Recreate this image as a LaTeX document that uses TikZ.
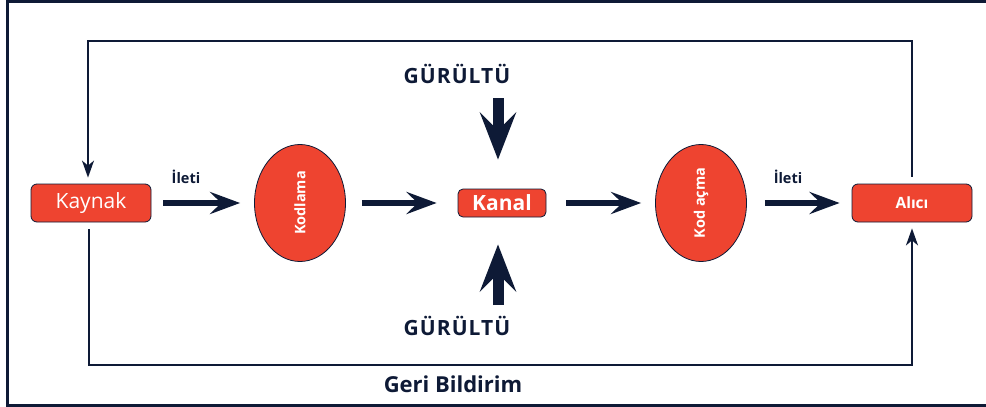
\documentclass[tikz,border=0pt]{standalone}
\usepackage{fontspec}
\setmainfont{Open Sans}
\usetikzlibrary{arrows.meta,calc,shapes.geometric}
\definecolor{navy}{HTML}{0E1A36}
\definecolor{redbox}{HTML}{EE4430}
\begin{document}
\begin{tikzpicture}[x=1pt,y=-1pt,
  box/.style={draw=navy,line width=0.8pt,fill=redbox,rounded corners=6pt,text=white,inner sep=0pt},
  oval/.style={ellipse,draw=navy,line width=0.8pt,fill=redbox,text=white,inner sep=0pt,minimum width=91pt,minimum height=117pt},
  bigarrow/.style={draw=navy,line width=6pt,-{Stealth[length=30pt,width=22pt,inset=11pt]}},
  noise/.style={draw=navy,line width=11pt,-{Stealth[length=47pt,width=36pt,inset=18pt]}},
  fb/.style={draw=navy,line width=1.8pt},
  fbarrow/.style={fb,-{Stealth[length=17pt,width=12pt,inset=5pt]}},
  lbl/.style={text=navy,font=\bfseries\fontsize{14.5}{16}\selectfont,inner sep=0pt},
  noiselbl/.style={text=navy,font=\bfseries\fontsize{21}{24}\selectfont\addfontfeatures{LetterSpace=5},inner sep=0pt}
]
\useasboundingbox (0,0) rectangle (986,407);
\fill[white] (0,0) rectangle (986,407);
% outer frame
\draw[navy,line width=3pt] (990,1.5) -- (7,1.5) -- (7,405) -- (990,405);

\node[box,minimum width=120pt,minimum height=38pt,font=\fontsize{21}{24}\selectfont] (kaynak) at (91,203) {Kaynak};
\node[oval] (kodlama) at (300,203) {};
\node[text=white,rotate=90,font=\bfseries\fontsize{14.5}{16}\selectfont] (kodlamat) at (kodlama.center) {Kodlama};
\node[box,minimum width=88pt,minimum height=28pt,rounded corners=5pt,font=\bfseries\fontsize{21}{24}\selectfont] (kanal) at (502,203) {Kanal};
\node[oval] (kodac) at (701,203) {};
\node[text=white,rotate=90,font=\bfseries\fontsize{14.5}{16}\selectfont] (kodact) at (kodac.center) {Kod açma};
\node[box,minimum width=120pt,minimum height=38pt,font=\bfseries\fontsize{15.5}{17}\selectfont] (alici) at (912,203) {Alıcı};

% labels
\node[lbl] (ileti1) at (186,177) {İleti};
\node[lbl] (ileti2) at (788,177) {İleti};
\node[noiselbl] (g1) at (457,74) {GÜRÜLTÜ};
\node[noiselbl] (g2) at (457,326) {GÜRÜLTÜ};
\node[text=navy,font=\bfseries\fontsize{22}{25}\selectfont,inner sep=0pt] (geri) at (453,384) {Geri Bildirim};

% main arrows
\draw[bigarrow] ([xshift=12pt]kaynak.east) -- ([xshift=-14pt]kodlama.west);
\draw[bigarrow] ([xshift=16pt]kodlama.east) -- ([xshift=-21pt]kanal.west);
\draw[bigarrow] ([xshift=20pt]kanal.east) -- ([xshift=-14pt]kodac.west);
\draw[bigarrow] ([xshift=18pt]kodac.east) -- ([xshift=-12pt]alici.west);

% noise arrows
\coordinate (n1) at (498,98);
\coordinate (n2) at (498,305);
\draw[noise] (n1) -- ($(n1 |- kanal.north)+(0,-29)$);
\draw[noise] (n2) -- ($(n2 |- kanal.south)+(0,27)$);

% feedback
\coordinate (fbtop) at (0,41);
\coordinate (fbbot) at (0,365);
\draw[fbarrow] ($(alici.north)+(0,-7)$) -- (alici.north |- fbtop) -- ($(kaynak.north |- fbtop)+(-3,0)$) -- ($(kaynak.north)+(-3,-6)$);
\draw[fbarrow] ($(kaynak.south)+(-2,7)$) -- ($(kaynak.south |- fbbot)+(-2,0)$) -- (alici.south |- fbbot) -- ($(alici.south)+(0,6)$);
\end{tikzpicture}
\end{document}
